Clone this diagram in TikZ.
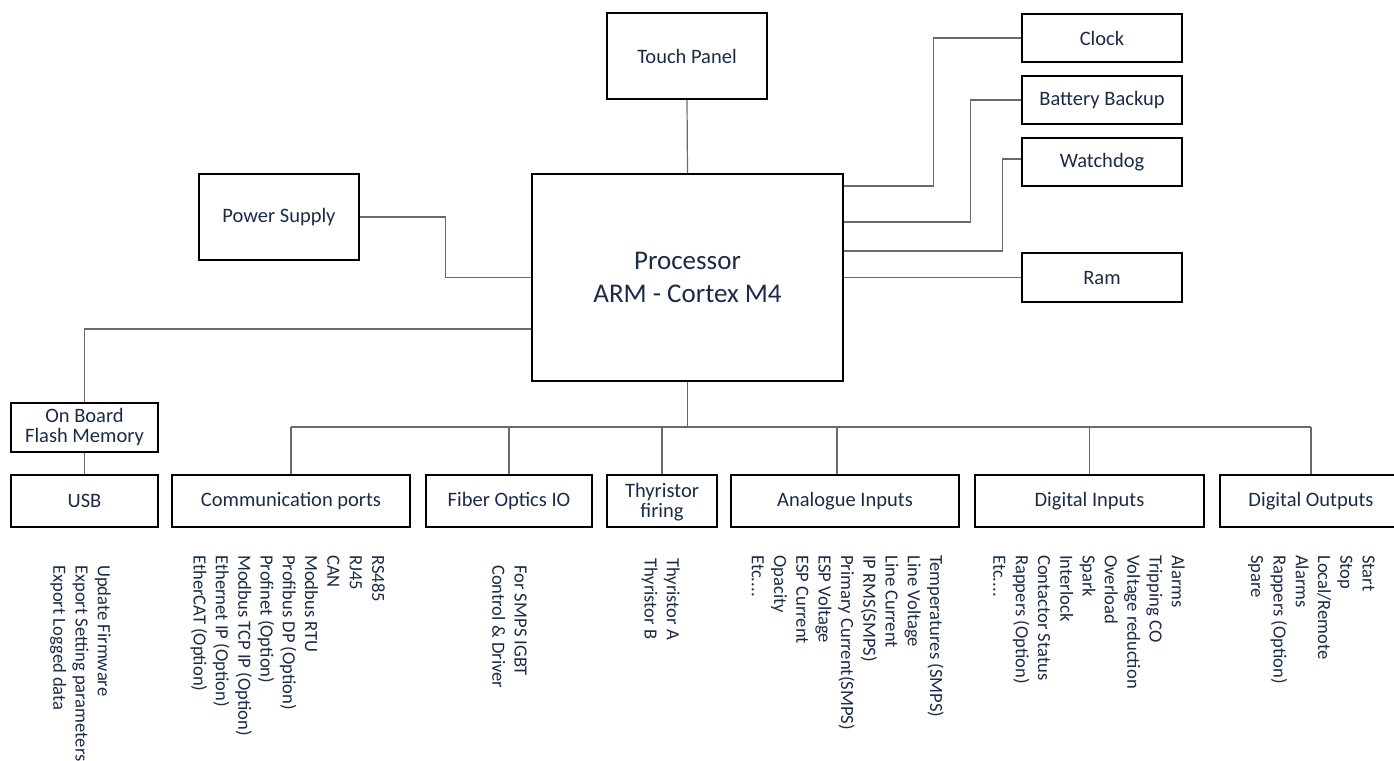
\documentclass[tikz,border=0pt]{standalone}
\usepackage{fontspec}
\setmainfont{Carlito}
\definecolor{navy}{HTML}{1B2A47}
\definecolor{wire}{HTML}{6A6A6A}
\begin{document}
\begin{tikzpicture}[x=1pt,y=-1pt,
  blk/.style={draw=black,line width=1.5pt,inner sep=0pt,align=center,text=navy,
    font=\fontsize{20.5}{20}\selectfont},
  conn/.style={draw=wire,line width=1.2pt},
  rot/.style={rotate=-90,anchor=north west,inner sep=0pt,align=left,text=navy,
    font=\fontsize{18.6}{22.3}\selectfont}]
\useasboundingbox (0,0) rectangle (1394,760);
% boxes
\node[blk,minimum width=160,minimum height=86] (touch) at (687,56) {Touch Panel};
\node[blk,minimum width=311,minimum height=207,font=\fontsize{27}{33}\selectfont] (proc) at (687.5,277.5) {Processor\\ARM - Cortex M4};
\node[blk,minimum width=160,minimum height=86] (power) at (279,217) {Power Supply};
\node[blk,minimum width=160,minimum height=48] (clock) at (1102,38) {Clock};
\node[blk,minimum width=160,minimum height=48] (battery) at (1102,100) {Battery Backup};
\node[blk,minimum width=160,minimum height=48] (watchdog) at (1102,162) {Watchdog};
\node[blk,minimum width=160,minimum height=49] (ram) at (1102,277.5) {Ram};
\node[blk,minimum width=147,minimum height=49] (flash) at (84.5,427.5) {On Board\\Flash Memory};
\node[blk,minimum width=147,minimum height=52] (usb) at (84.5,501) {USB};
\node[blk,minimum width=238,minimum height=52] (comm) at (291,501) {Communication ports};
\node[blk,minimum width=166,minimum height=52] (fiber) at (509,501) {Fiber Optics IO};
\node[blk,minimum width=110,minimum height=52,text depth=2pt] (thyr) at (662,501) {Thyristor\\firing};
\node[blk,minimum width=228,minimum height=52] (analog) at (845,501) {Analogue Inputs};
\node[blk,minimum width=229,minimum height=52] (digin) at (1089.5,501) {Digital Inputs};
\node[blk,minimum width=182,minimum height=52] (digout) at (1311,501) {Digital Outputs};
% helper coordinates
\coordinate (busL) at (291,427);
\coordinate (busR) at (1311,427);
\coordinate (hClock) at (0,186);
\coordinate (hBatt) at (0,222);
\coordinate (hWd) at (0,251);
\coordinate (hFlash) at (0,329);
% connectors
\draw[conn] (touch.south) -- (proc.north);
\draw[conn] (power.east) -- ++(86,0) |- (proc.west);
\draw[conn] (proc.west |- hFlash) -| (flash.north);
\draw[conn] (flash.south) -- (usb.north);
\draw[conn] (proc.east |- hClock) -- ++(90,0) |- (clock.west);
\draw[conn] (proc.east |- hBatt) -- ++(127,0) |- (battery.west);
\draw[conn] (proc.east |- hWd) -- ++(159,0) |- ([yshift=3pt]watchdog.west);
\draw[conn] (ram.west) -- (ram.west -| proc.east);
\draw[conn] (proc.south) -- (proc.south |- busL);
\draw[conn] (busL) -- (busR);
\draw[conn] (comm.north) -- (comm.north |- busL);
\draw[conn] (fiber.north) -- (fiber.north |- busL);
\draw[conn] (thyr.north) -- (thyr.north |- busL);
\draw[conn] ([xshift=-8pt]analog.north) -- ([xshift=-8pt]analog.north |- busL);
\draw[conn] (digin.north) -- (digin.north |- busL);
\draw[conn] (digout.north) -- (busR);
% rotated lists
\node[rot] (lusb) at (111,565) {Update Firmware\\Export Setting parameters\\Export Logged data};
\node[rot] (lcomm) at (385,555) {RS485\\RJ45\\CAN\\Modbus RTU\\Profibus DP (Option)\\Profinet (Option)\\Modbus TCP IP (Option)\\Ethernet IP (Option)\\EtherCAT (Option)};
\node[rot] (lfiber) at (527,565) {For SMPS IGBT\\Control \& Driver};
\node[rot] (lthyr) at (680,558) {Thyristor A\\Thyristor B};
\node[rot] (lanalog) at (944,555) {Temperatures (SMPS)\\Line Voltage\\Line Current\\IP RMS(SMPS)\\Primary Current(SMPS)\\ESP Voltage\\ESP Current\\Opacity\\Etc....};
\node[rot] (ldigin) at (1185,555) {Alarms\\Tripping CO\\Voltage reduction\\Overload\\Spark\\Interlock\\Contactor Status\\Rappers (Option)\\Etc....};
\node[rot] (ldigout) at (1375,555) {Start\\Stop\\Local/Remote\\Alarms\\Rappers (Option)\\Spare};
\end{tikzpicture}
\end{document}
